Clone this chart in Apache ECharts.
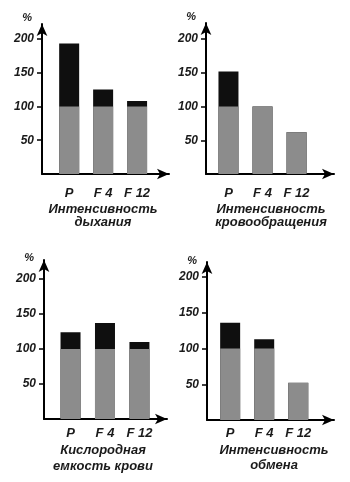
<!DOCTYPE html>
<html>
<head>
<meta charset="utf-8">
<script src="https://cdn.jsdelivr.net/npm/echarts@6/dist/echarts.min.js"></script>
<style>
html,body{margin:0;padding:0;background:#fff;}
#chart{width:350px;height:482px;}
</style>
</head>
<body>
<div id="chart"></div>
<script>
// ---- data ----
const categories = ['P', 'F 4', 'F 12'];
const dyhanie = [193, 125, 108];
const krovoobrashchenie = [152, 100, 62];
const kislorod = [124, 137, 110];
const obmen = [136, 113, 52];
const yTicks = [50, 100, 150, 200];
const xTicks = [0, 1, 2];
const baseLevel = 100;
const panelTitles = [
  'Интенсивность\nдыхания',
  'Интенсивность\nкровообращения',
  'Кислородная\nемкость крови',
  'Интенсивность\nобмена'
];
const panelSeries = [dyhanie, krovoobrashchenie, kislorod, obmen];

// ---- layout / style ----
const layouts = [
  {left: 42, top: 24, width: 127, height: 150, yMax: 222, xMin: -0.8, xMax: 2.94, labelMargin: 13, nameGap: 29, lineHeight: 13, pctGap: 6, titlePad: [0, 5, 0, 0]},
  {left: 206, top: 23, width: 128, height: 151, yMax: 224, xMin: -0.66, xMax: 3.1, labelMargin: 13, nameGap: 29, lineHeight: 13, pctGap: 6, titlePad: [0, 0, 0, 2]},
  {left: 44, top: 260, width: 123, height: 159, yMax: 227, xMin: -0.77, xMax: 2.8, labelMargin: 8, nameGap: 23, lineHeight: 16, pctGap: 2, titlePad: [0, 5, 0, 0]},
  {left: 207, top: 262, width: 127, height: 158, yMax: 221, xMin: -0.68, xMax: 3.05, labelMargin: 7, nameGap: 23, lineHeight: 15, pctGap: 1, titlePad: [0, 0, 0, 7]}
];
const FONT = '"Liberation Sans", Arial, sans-serif';
const TEXT = '#1a1a1a';
const GRAY = '#8c8c8c';
const BLACK = '#0f0f0f';

const grid = [], xAxis = [], yAxis = [], series = [];
layouts.forEach((L, i) => {
  grid.push({left: L.left, top: L.top, width: L.width, height: L.height, containLabel: false});
  xAxis.push({
    type: 'value', gridIndex: i, min: L.xMin, max: L.xMax,
    name: panelTitles[i], nameLocation: 'middle', nameGap: L.nameGap,
    nameTextStyle: {fontFamily: FONT, fontSize: 13, fontWeight: 'bold', fontStyle: 'italic', color: TEXT, lineHeight: L.lineHeight, verticalAlign: 'top', padding: L.titlePad},
    axisLine: {onZero: false, symbol: ['none', 'arrow'], symbolSize: [8, 12], lineStyle: {color: '#000', width: 2}},
    axisTick: {show: false},
    splitLine: {show: false},
    axisLabel: {
      customValues: xTicks, margin: L.labelMargin,
      fontFamily: FONT, fontSize: 13, fontWeight: 'bold', fontStyle: 'italic', color: TEXT,
      formatter: v => categories[Math.round(v)] || ''
    }
  });
  yAxis.push({
    type: 'value', gridIndex: i, min: 0, max: L.yMax,
    name: '%', nameLocation: 'end', nameGap: L.pctGap,
    nameTextStyle: {fontFamily: FONT, fontSize: 11, fontWeight: 'bold', fontStyle: 'italic', color: TEXT, align: 'right', verticalAlign: 'middle', padding: [0, 10, 0, 0]},
    axisLine: {show: true, onZero: false, symbol: ['none', 'arrow'], symbolSize: [8, 12], lineStyle: {color: '#000', width: 2}},
    axisTick: {show: true, customValues: yTicks, length: 5, lineStyle: {color: '#000', width: 1.5}},
    splitLine: {show: false},
    axisLabel: {
      customValues: yTicks, margin: 8,
      fontFamily: FONT, fontSize: 12, fontWeight: 'bold', fontStyle: 'italic', color: TEXT
    }
  });
  const vals = panelSeries[i];
  // full value (black) drawn first, the base part (gray, up to 100 %) overlaid on it
  series.push({
    type: 'bar', xAxisIndex: i, yAxisIndex: i, barWidth: 20, barGap: '-100%',
    itemStyle: {color: BLACK}, silent: true,
    data: vals.map((v, k) => [xTicks[k], v])
  });
  series.push({
    type: 'bar', xAxisIndex: i, yAxisIndex: i, barWidth: 20, barGap: '-100%',
    itemStyle: {color: GRAY}, silent: true,
    data: vals.map((v, k) => [xTicks[k], Math.min(v, baseLevel)])
  });
});

const chart = echarts.init(document.getElementById('chart'), null, {renderer: 'canvas'});
chart.setOption({
  backgroundColor: '#fff',
  animation: false,
  grid, xAxis, yAxis, series
});
</script>
</body>
</html>
